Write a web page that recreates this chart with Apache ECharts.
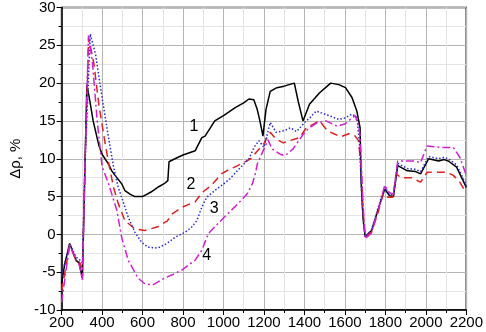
<!DOCTYPE html>
<html><head><meta charset="utf-8">
<script src="https://cdn.jsdelivr.net/npm/echarts@6/dist/echarts.min.js"></script>
<style>html,body{margin:0;padding:0;background:#fff}#c{width:486px;height:332px}</style>
</head><body><div id="c"></div>
<script>
// Series 1 (black solid)
const x1 = [200,215,240,271,287,303,316,325,340,356,384,400,432,448,470,497,513,540,562,600,642,680,707,725,731,760,800,860,893,909,957,1000,1022,1060,1100,1126,1150,1167,1180,1195,1210,1231,1264,1300,1337,1350,1370,1393,1425,1474,1500,1530,1570,1603,1635,1659,1675,1680,1690,1700,1732,1764,1797,1821,1840,1861,1909,1950,1974,2014,2063,2090,2111,2152,2184,2200];
const y1 = [-6.5,-4,-1.2,-3.4,-3.8,-5.8,9.5,19.8,17.6,15,11.8,10.6,9.3,8.4,7.6,6.7,5.8,5.3,5.0,5.0,5.6,6.3,6.7,7.1,9.6,10.0,10.5,11.05,12.8,13.0,15.0,15.7,16.1,16.8,17.4,17.9,17.8,16.5,15,13.0,16.5,18.9,19.4,19.6,19.9,20.0,17.5,15.0,17.2,18.7,19.3,20.0,19.8,19.4,18.1,16.3,14.1,7.1,2,-0.3,0.5,3.3,6.0,5.1,5.0,9.1,8.4,8.3,8.0,10.0,9.7,9.9,9.7,8.9,7.1,6.2];
// Series 2 (red dashed)
const x2 = [200,240,271,287,303,316,334,360,384,416,432,457,481,513,562,610,675,723,747,796,860,893,941,989,1030,1070,1135,1160,1183,1200,1215,1231,1260,1296,1328,1377,1409,1440,1474,1514,1545,1579,1619,1651,1667,1680,1690,1700,1732,1764,1789,1813,1837,1853,1877,1926,1974,2006,2055,2103,2136,2168,2192,2200];
const y2 = [-7.5,-1.5,-3.3,-3.6,-4.5,9.5,26.0,22.5,17.2,11.9,9.5,6.2,4.0,1.8,0.75,0.5,1.0,1.8,2.7,3.6,4.3,5.5,6.5,8.0,8.6,9.1,10.0,10.8,11.5,12.0,12.8,13.5,12.6,12.1,12.4,12.8,14.1,14.5,15.0,13.7,13.3,12.9,13.3,13.0,12.4,9,3,-0.3,0.3,2.9,5.4,4.9,4.9,8.0,7.5,7.5,6.9,8.2,8.2,8.2,7.8,6.9,5.8,5.6];
// Series 3 (blue dotted)
const x3 = [200,240,271,287,303,316,342,368,400,432,457,480,497,529,562,594,626,675,707,731,763,812,844,868,893,917,957,997,1030,1054,1086,1126,1151,1175,1200,1231,1260,1300,1330,1361,1401,1430,1458,1490,1522,1570,1600,1635,1660,1672,1685,1700,1732,1764,1797,1821,1840,1861,1909,1950,1974,2014,2063,2090,2111,2152,2184,2200];
const y3 = [-5.5,-1.2,-3.0,-3.3,-3.8,9.5,26.5,23.8,18.1,12.8,8.9,6.2,4.9,2.3,0.3,-1.0,-1.7,-1.8,-1.4,-1.0,-0.35,0.3,1.0,1.8,3.6,4.9,5.8,6.6,7.3,8.0,8.9,10.0,11.5,12.4,11.5,14.8,13.5,13.7,14.1,13.6,14.8,15.5,16.3,16.0,15.7,15.2,15.4,15.9,15.5,12,4,-0.3,0.6,3.5,6.3,5.3,5.2,9.4,8.7,8.6,8.3,10.3,10.0,10.2,10.0,9.2,7.4,6.4];
// Series 4 (magenta dash-dot)
const x4 = [200,240,271,287,303,316,333,352,376,400,432,473,497,529,578,610,650,707,750,796,860,893,925,957,1005,1070,1118,1143,1159,1167,1200,1220,1240,1280,1304,1344,1393,1420,1460,1507,1562,1600,1627,1651,1665,1675,1688,1700,1732,1764,1797,1821,1840,1861,1894,1942,1974,2006,2071,2136,2168,2200];
const y4 = [-9,-1.3,-3.5,-4.0,-6.0,9.5,26.3,22.9,15.0,9.0,6.7,3.2,-0.4,-3.4,-5.8,-6.5,-6.7,-5.8,-5.3,-4.7,-3.4,-2.1,0.1,1.0,2.3,4.0,5.4,6.7,8.2,9.3,11.3,12.5,11.3,10.6,10.4,11.3,13.2,14.0,14.7,15.0,14.3,14.6,15.2,15.7,14.5,13.2,5,-0.6,0.2,3.2,6.5,5.5,5.3,9.7,9.7,9.7,9.5,11.7,11.5,11.5,10.2,7.8];
// Curve labels: text and data positions
const curveLabels = ['1','2','3','4'];
const labelX = [854,839,954,917];
const labelY = [14.3,6.6,3.4,-2.8];

const pair = (xs, ys) => xs.map((x, i) => [x, ys[i]]);
const chart = echarts.init(document.getElementById('c'));
const font = 'Liberation Sans, Arial, sans-serif';
const plain = v => String(v);
chart.setOption({
  animation: false,
  grid: {left: 57, right: 16, top: 6.5, bottom: 22, show: true, borderColor: '#000', borderWidth: 1.5},
  xAxis: {
    type: 'value', min: 200, max: 2200, interval: 200,
    axisLine: {show: true, onZero: false, lineStyle: {color: '#000', width: 1.5}},
    axisTick: {show: true, length: 5, lineStyle: {color: '#000'}},
    minorTick: {show: true, splitNumber: 2, length: 3, lineStyle: {color: '#000'}},
    splitLine: {show: true, lineStyle: {color: '#b5b5b5', width: 1}},
    minorSplitLine: {show: true, lineStyle: {color: '#e4e4e4', width: 1}},
    axisLabel: {color: '#000', fontSize: 15, fontFamily: font, margin: 5, formatter: plain}
  },
  yAxis: {
    type: 'value', min: -10, max: 30, interval: 5,
    name: 'Δρ, %', nameLocation: 'middle', nameGap: 38, nameRotate: 90,
    nameTextStyle: {color: '#000', fontSize: 15, fontFamily: font},
    axisLine: {show: true, onZero: false, lineStyle: {color: '#000', width: 1.5}},
    axisTick: {show: true, length: 5, lineStyle: {color: '#000'}},
    minorTick: {show: true, splitNumber: 2, length: 3, lineStyle: {color: '#000'}},
    splitLine: {show: true, lineStyle: {color: '#b5b5b5', width: 1}},
    minorSplitLine: {show: true, lineStyle: {color: '#e4e4e4', width: 1}},
    axisLabel: {color: '#000', fontSize: 15, fontFamily: font, margin: 6, formatter: plain}
  },
  series: [
    {type: 'line', data: pair(x1, y1), symbol: 'none', lineStyle: {color: '#000000', width: 1.5}},
    {type: 'line', data: pair(x2, y2), symbol: 'none', lineStyle: {color: '#e02020', width: 1.5, type: [8, 5]}},
    {type: 'line', data: pair(x3, y3), symbol: 'none', lineStyle: {color: '#2a2ad0', width: 1.5, type: [1.5, 2]}},
    {type: 'line', data: pair(x4, y4), symbol: 'none', lineStyle: {color: '#d020d0', width: 1.5, type: [8, 3, 2, 3]}}
  ]
});
const g = curveLabels.map((t, i) => {
  const p = chart.convertToPixel({gridIndex: 0}, [labelX[i], labelY[i]]);
  return {type: 'text', x: p[0], y: p[1], style: {text: t, fill: '#000', fontSize: 16, fontFamily: font, align: 'center', verticalAlign: 'middle'}};
});
chart.setOption({graphic: g});
</script></body></html>
